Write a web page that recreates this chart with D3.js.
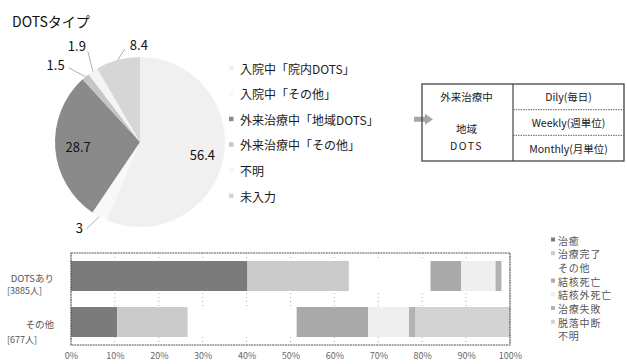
<!DOCTYPE html>
<html>
<head>
<meta charset="utf-8">
<script src="https://cdn.jsdelivr.net/npm/d3@7/dist/d3.min.js"></script>
<style>
  html, body { margin: 0; padding: 0; background: #fff; }
  svg { display: block; font-family: "Noto Sans CJK JP", "Noto Sans", sans-serif; }
</style>
</head>
<body>
<svg id="chart" width="627" height="364"></svg>
<script>
// ---- DOTS type breakdown (pie, %) ----
const dotsTypes = ["入院中「院内DOTS」", "入院中「その他」", "外来治療中「地域DOTS」", "外来治療中「その他」", "不明", "未入力"];
const dotsShares = [56.4, 3, 28.7, 1.5, 1.9, 8.4];

// ---- treatment outcome by DOTS status (stacked bars, %) ----
const groups = ["DOTSあり", "その他"];
const groupCounts = ["[3885人]", "[677人]"];
const outcomes = ["治癒", "治療完了", "その他", "結核死亡", "結核外死亡", "治療失敗", "脱落中断", "不明"];
const outcomeDotsYes = [40.2, 23.1, 18.6, 7.0, 7.8, 1.4, 0, 1.9];
const outcomeOther = [10.5, 16.1, 24.8, 16.3, 9.3, 1.5, 21.5, 0];
const percentTicks = [0, 10, 20, 30, 40, 50, 60, 70, 80, 90, 100];

// ---- community DOTS frequency table ----
const tableLeft = ["外来治療中", "地域", "DOTS"];
const tableRight = ["Dily(毎日)", "Weekly(週単位)", "Monthly(月単位)"];

const svg = d3.select("#chart");

// title
svg.append("text").attr("x", 12).attr("y", 27)
  .attr("font-size", 14).attr("fill", "#111").text("DOTSタイプ");

// ---------- pie ----------
const pieColors = ["#f0f0f0", "#f8f8f8", "#8a8a8a", "#c6c6c6", "#f4f4f4", "#d6d6d6"];
const cx = 140, cy = 142, R = 85;
const pie = d3.pie().sort(null)(dotsShares);
const arc = d3.arc().innerRadius(0).outerRadius(R);
const pg = svg.append("g").attr("transform", `translate(${cx},${cy})`);
pg.selectAll("path").data(pie).join("path")
  .attr("d", arc).attr("fill", (d, i) => pieColors[i]);

// inside labels for the two large slices, outside labels with leaders for the rest
const edge = (d, r) => {
  const a = (d.startAngle + d.endAngle) / 2;
  return [Math.sin(a) * r, -Math.cos(a) * r];
};
const outside = {
  1: { label: [-20, 11], lead: [-12.5, 12] },
  3: { label: [-30, -12], lead: [-17, -9] },
  4: { label: [-16, -26], lead: [-5, -20] },
  5: { label: [21, -15], lead: [7, -11] }
};
pie.forEach((d, i) => {
  let x, y;
  if (outside[i]) {
    const [ex, ey] = edge(d, R);
    const o = outside[i];
    pg.append("line")
      .attr("x1", ex).attr("y1", ey)
      .attr("x2", ex + o.lead[0]).attr("y2", ey + o.lead[1])
      .attr("stroke", "#9a9a9a").attr("stroke-width", 0.8);
    x = ex + o.label[0]; y = ey + o.label[1];
  } else {
    [x, y] = edge(d, i === 0 ? 0.75 * R : 0.73 * R);
  }
  pg.append("text").attr("x", x).attr("y", y)
    .attr("text-anchor", "middle").attr("dominant-baseline", "central")
    .attr("font-size", 13).attr("fill", "#111")
    .text(d.data);
});

// pie legend
const legY = d3.scalePoint().domain(dotsTypes).range([68, 196]);
const pl = svg.append("g");
dotsTypes.forEach((t, i) => {
  pl.append("rect").attr("x", 229).attr("y", legY(t) - 2.5).attr("width", 4.5).attr("height", 4.5)
    .attr("fill", pieColors[i]);
  pl.append("text").attr("x", 240).attr("y", legY(t))
    .attr("dominant-baseline", "central").attr("font-size", 12).attr("fill", "#1a1a1a")
    .text(t);
});

// block arrow pointing to the table
const ay = legY(dotsTypes[2]);
svg.append("path")
  .attr("d", `M414,${ay - 2.5} L425,${ay - 2.5} L425,${ay - 5.5} L433,${ay} L425,${ay + 5.5} L425,${ay + 2.5} L414,${ay + 2.5} Z`)
  .attr("fill", "#a6a6a6");

// ---------- table ----------
const tx0 = 422, tx1 = 513, tx2 = 624;
const rowY = d3.scaleBand().domain(d3.range(3)).range([84, 161]);
const tg = svg.append("g");
tg.append("rect").attr("x", tx0).attr("y", 84).attr("width", tx2 - tx0).attr("height", 77)
  .attr("fill", "none").attr("stroke", "#444").attr("stroke-width", 1.3);
tg.append("line").attr("x1", tx1).attr("x2", tx1).attr("y1", 84).attr("y2", 161)
  .attr("stroke", "#444").attr("stroke-width", 1.2);
[1, 2].forEach(r => {
  tg.append("line").attr("x1", tx1).attr("x2", tx2)
    .attr("y1", rowY(r)).attr("y2", rowY(r))
    .attr("stroke", "#666").attr("stroke-width", 1).attr("stroke-dasharray", "1.5,1");
});
const leftY = [96, 128, 145];
tableLeft.forEach((t, i) => {
  tg.append("text").attr("x", (tx0 + tx1) / 2 - 1).attr("y", leftY[i])
    .attr("text-anchor", "middle").attr("dominant-baseline", "central")
    .attr("font-size", 10.5).attr("fill", "#1a1a1a")
    .attr("letter-spacing", i === 2 ? 1.5 : 0).text(t);
});
tableRight.forEach((t, i) => {
  tg.append("text").attr("x", (tx1 + tx2) / 2).attr("y", rowY(i) + rowY.bandwidth() / 2)
    .attr("text-anchor", "middle").attr("dominant-baseline", "central")
    .attr("font-size", 10.5).attr("fill", "#1a1a1a").text(t);
});

// ---------- stacked bars ----------
const outcomeColors = ["#7b7b7b", "#cbcbcb", "#ffffff", "#a9a9a9", "#efefef", "#b3b3b3", "#d3d3d3", "#ffffff"];
const x = d3.scaleLinear().domain([0, 100]).range([71, 510]);
const y = d3.scaleBand().domain(groups).range([253, 345]).paddingInner(0.348).paddingOuter(0.174);

const rows = groups.map((g, gi) => {
  const obj = { group: g };
  const vals = gi === 0 ? outcomeDotsYes : outcomeOther;
  outcomes.forEach((o, k) => obj[o] = vals[k]);
  return obj;
});
const stack = d3.stack().keys(outcomes)(rows);

const bg = svg.append("g");
// dotted gridlines
bg.selectAll("line.grid").data(percentTicks.slice(1, -1)).join("line")
  .attr("class", "grid")
  .attr("x1", d => x(d)).attr("x2", d => x(d))
  .attr("y1", 253).attr("y2", 345)
  .attr("stroke", "#999").attr("stroke-width", 0.8).attr("stroke-dasharray", "1,3");

stack.forEach((layer, k) => {
  bg.selectAll(null).data(layer).join("rect")
    .attr("x", d => x(d[0]))
    .attr("width", d => x(d[1]) - x(d[0]))
    .attr("y", d => y(d.data.group))
    .attr("height", y.bandwidth())
    .attr("fill", outcomeColors[k]);
});

// plot frame
bg.append("rect").attr("x", 71).attr("y", 253).attr("width", 439).attr("height", 92)
  .attr("fill", "none").attr("stroke", "#555").attr("stroke-width", 1.2)
  .attr("stroke-dasharray", "2,0.6");

// x axis
const xAxis = svg.append("g").attr("transform", "translate(0,350)")
  .call(d3.axisBottom(x).tickValues(percentTicks).tickSize(0).tickFormat(d => d + "%"));
xAxis.select(".domain").remove();
xAxis.selectAll("text").attr("font-size", 9).attr("fill", "#666")
  .attr("font-family", "'Noto Sans CJK JP', sans-serif");

// category labels
groups.forEach((g, i) => {
  const c = y(g) + y.bandwidth() / 2;
  svg.append("text").attr("x", 54).attr("y", c + 2).attr("text-anchor", "end")
    .attr("dominant-baseline", "central").attr("font-size", 9.5).attr("fill", "#555").text(g);
  svg.append("text").attr("x", 7).attr("y", c + 14 + (i === 1 ? 3 : 0))
    .attr("dominant-baseline", "central").attr("font-size", 9).attr("fill", "#555").text(groupCounts[i]);
});

// outcome legend
const ol = svg.append("g");
outcomes.forEach((o, i) => {
  const yy = 240 + i * 13.7;
  ol.append("rect").attr("x", 551).attr("y", yy - 2.5).attr("width", 4).attr("height", 4)
    .attr("fill", outcomeColors[i]);
  ol.append("text").attr("x", 558).attr("y", yy)
    .attr("dominant-baseline", "central").attr("font-size", 10).attr("fill", "#555")
    .attr("letter-spacing", 0.8).text(o);
});
</script>
</body>
</html>
